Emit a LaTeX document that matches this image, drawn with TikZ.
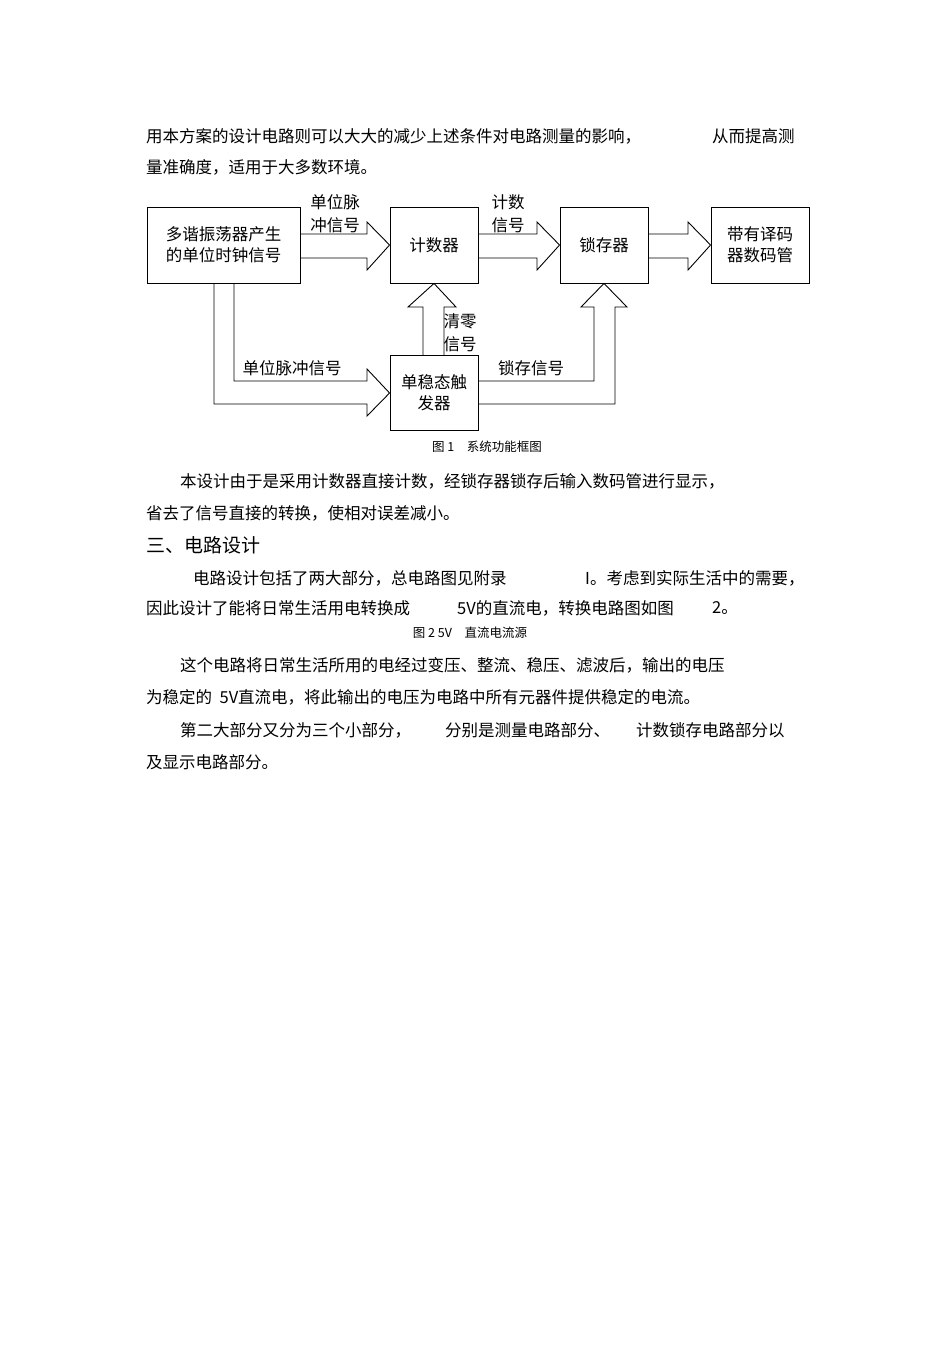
\documentclass[tikz,border=0pt]{standalone}
\usepackage{fontspec}
\setmainfont{Liberation Sans}
\newfontfamily\cjk{Noto Sans CJK SC}
\begin{document}
\begin{tikzpicture}[x=1pt,y=-1pt,
  txt/.style={anchor=west,inner sep=0pt,font=\cjk\fontsize{16.5}{18}\selectfont},
  box/.style={draw,line width=0.9pt,inner sep=0pt,align=center,font=\cjk\fontsize{16.5}{21}\selectfont},
  lab/.style={inner sep=0pt,align=left,font=\cjk\fontsize{16.5}{23}\selectfont},
  captext/.style={inner sep=0pt,font=\cjk\fontsize{12.5}{14}\selectfont},
  harrow/.style={line width=0.9pt}]
\useasboundingbox (0,0) rectangle (950,1345);
\fill[white] (0,0) rectangle (950,1345);
% text
\node[txt] (t1a) at (146,136) {用本方案的设计电路则可以大大的减少上述条件对电路测量的影响，};
\node[txt] (t1b) at (712,136) {从而提高测};
\node[txt] (t2) at (146,167) {量准确度，适用于大多数环境。};
\node[txt] (t3) at (180,481) {本设计由于是采用计数器直接计数，经锁存器锁存后输入数码管进行显示，};
\node[txt] (t4) at (146,513) {省去了信号直接的转换，使相对误差减小。};
\node[txt,font=\cjk\fontsize{19}{20}\selectfont] (t5) at (146,545) {三、电路设计};
\node[txt] (t6a) at (193,578) {电路设计包括了两大部分，总电路图见附录};
\node[txt] (t6b) at (585,578) {I。考虑到实际生活中的需要，};
\node[txt] (t7a) at (146,608) {因此设计了能将日常生活用电转换成};
\node[txt] (t7b) at (457,608) {5V的直流电，转换电路图如图};
\node[txt] (t7c) at (712,608) {2。};
\node[captext] (c2) at (470,633) {图 2 5V\quad 直流电流源};
\node[txt] (t8) at (180,665) {这个电路将日常生活所用的电经过变压、整流、稳压、滤波后，输出的电压};
\node[txt] (t9) at (146,697) {为稳定的 \ 5V直流电，将此输出的电压为电路中所有元器件提供稳定的电流。};
\node[txt] (t10a) at (180,730) {第二大部分又分为三个小部分，};
\node[txt] (t10b) at (445,730) {分别是测量电路部分、};
\node[txt] (t10c) at (636,730) {计数锁存电路部分以};
\node[txt] (t11) at (146,762) {及显示电路部分。};
% boxes
\node[box,minimum width=153,minimum height=76] (osc) at (223.5,245) {多谐振荡器产生\\的单位时钟信号};
\node[box,minimum width=88,minimum height=76] (cnt) at (434,245) {计数器};
\node[box,minimum width=88,minimum height=76] (lat) at (604,245) {锁存器};
\node[box,minimum width=98,minimum height=76] (disp) at (760,245) {带有译码\\器数码管};
\node[box,minimum width=88,minimum height=75] (mono) at (434,393) {单稳态触\\发器};
% hollow arrows horizontal
\draw[harrow] (osc.east|-0,234) -- (367,234) -- (367,222) -- (cnt.west) -- (367,270) -- (367,258) -- (osc.east|-0,258);
\draw[harrow] (cnt.east|-0,234) -- (537,234) -- (537,222) -- (lat.west) -- (537,270) -- (537,258) -- (cnt.east|-0,258);
\draw[harrow] (lat.east|-0,234) -- (688,234) -- (688,222) -- (disp.west) -- (688,270) -- (688,258) -- (lat.east|-0,258);
% vertical: mono to counter
\draw[harrow] (423,0|-mono.north) -- (423,307) -- (408,307) -- (cnt.south) -- (456,307) -- (444,307) -- (444,0|-mono.north);
% mono to latch
\draw[harrow] (mono.east|-0,381) -- (594,381) -- (594,307) -- (581,307) -- (lat.south) -- (627,307) -- (615,307) -- (615,404) -- (mono.east|-0,404);
% osc to mono
\draw[harrow] (234,0|-osc.south) -- (234,381) -- (367,381) -- (367,369) -- (mono.west) -- (367,416) -- (367,404) -- (214,404) -- (214,0|-osc.south);
% labels
\node[lab] (l1) at (335,214) {单位脉\\冲信号};
\node[lab] (l2) at (508,214) {计数\\信号};
\node[lab] (l3) at (460,333) {清零\\信号};
\node[lab] (l4) at (292,368) {单位脉冲信号};
\node[lab] (l5) at (531,368) {锁存信号};
\node[captext] (c1) at (487,447) {图 1\quad 系统功能框图};
\end{tikzpicture}
\end{document}
